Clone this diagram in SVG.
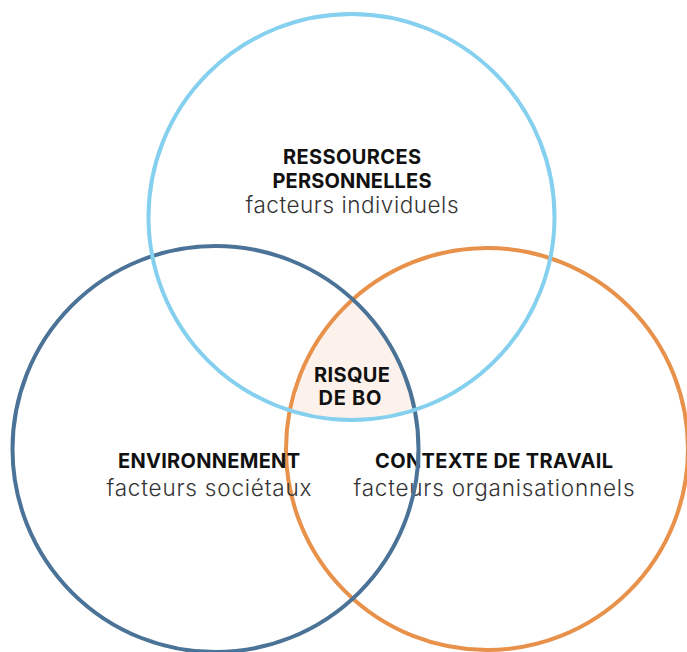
<svg xmlns="http://www.w3.org/2000/svg" width="687" height="652" viewBox="0 0 687 652">
<style>
.c{fill:none;stroke-width:4}
.h{font-family:Inter,"Liberation Sans",sans-serif;font-weight:700;font-size:20px;fill:#111;text-anchor:middle}
.s{font-family:Inter,"Liberation Sans",sans-serif;font-weight:300;font-size:22.5px;fill:#333;text-anchor:middle}
</style>
<defs>
<clipPath id="ct"><circle cx="351.5" cy="217" r="203"/></clipPath>
<clipPath id="cl"><circle cx="215.5" cy="449" r="203"/></clipPath>
<clipPath id="cr"><circle cx="487" cy="449" r="201"/></clipPath>
</defs>
<rect width="687" height="652" fill="#fff"/>
<g id="intersection">
<g clip-path="url(#ct)"><g clip-path="url(#cl)"><rect x="0" y="0" width="687" height="652" fill="#FCF2EB" clip-path="url(#cr)"/></g></g>
</g>
<g id="connectors"></g>
<g id="contexte">
<circle class="c" cx="487" cy="449" r="201" stroke="#E8914A"/>
<text class="h" x="494" y="468" textLength="238">CONTEXTE DE TRAVAIL</text>
<text class="s" x="494" y="496" textLength="281">facteurs organisationnels</text>
</g>
<g id="environnement">
<circle class="c" cx="215.5" cy="449" r="203" stroke="#4B7397"/>
<text class="h" x="209" y="468" textLength="182">ENVIRONNEMENT</text>
<text class="s" x="209" y="496" textLength="205">facteurs sociétaux</text>
</g>
<g id="ressources">
<circle class="c" cx="351.5" cy="217" r="203" stroke="#85D0EE"/>
<text class="h" x="352" y="164" textLength="138">RESSOURCES</text>
<text class="h" x="352" y="188" textLength="159">PERSONNELLES</text>
<text class="s" x="352" y="213" textLength="213">facteurs individuels</text>
</g>
<g id="risque">
<text class="h" x="352" y="382" textLength="76">RISQUE</text>
<text class="h" x="350" y="405" textLength="63">DE BO</text>
</g>
</svg>
